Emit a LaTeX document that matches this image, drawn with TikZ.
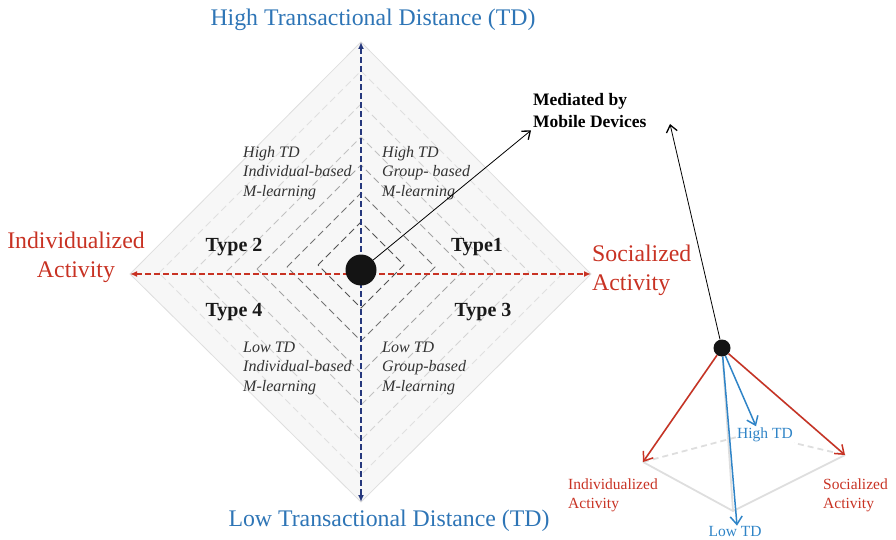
\documentclass[tikz,border=0pt]{standalone}
\usepackage{fontspec}
\setmainfont{Liberation Serif}
\usetikzlibrary{arrows.meta,positioning}
\definecolor{actred}{RGB}{200,50,35}
\definecolor{tdblue}{RGB}{46,117,182}
\definecolor{axisblue}{RGB}{38,56,125}
\definecolor{pyrblue}{RGB}{47,132,199}
\definecolor{panelgray}{RGB}{247,247,247}
\definecolor{edgegray}{RGB}{222,222,222}
\tikzset{
  quadtext/.style={font=\fontsize{16}{19.5}\selectfont\itshape, align=left, text=black!80, anchor=west, inner sep=0pt},
  typelabel/.style={font=\fontsize{20}{24}\selectfont\bfseries, text=black!90},
  axistitle/.style={font=\fontsize{23.8}{28}\selectfont, text=tdblue},
  acttitle/.style={font=\fontsize{23.8}{29}\selectfont, text=actred, inner sep=0pt},
  pyrlabel/.style={font=\fontsize{15.5}{19}\selectfont, inner sep=0pt},
  pyredge/.style={draw=edgegray, line width=1.8pt},
  bigdot/.style={circle, fill=black!92, inner sep=0pt},
  thinarrow/.style={line width=0.8pt, -{Straight Barb[length=7pt,width=11pt,line width=1.3pt]}},
  pyrarrow/.style={line width=1.5pt, -{Straight Barb[length=8pt,width=12pt]}},
}

\begin{document}
\begin{tikzpicture}[x=1pt, y=-1pt]
    \useasboundingbox (0,0) rectangle (896,540);

    \coordinate (dtop) at (361,42);
    \coordinate (dbot) at (361,502);
    \coordinate (dleft) at (130,274);
    \coordinate (dright) at (591,274);

    \fill[panelgray] (dleft) -- (dtop) -- (dright) -- (dbot) -- cycle;
    \draw[edgegray, line width=0.8pt] (dleft) -- (dtop) -- (dright) -- (dbot) -- cycle;
    \foreach \s/\cy/\c in {202/273/black!12, 168/272/black!17, 134/271/black!24, 104/269/black!36, 74/267/black!55, 43/265/black!68}
        \draw[\c, line width=1pt, dash pattern=on 7pt off 4pt] ({361-\s},\cy) -- (361,{\cy-\s}) -- ({361+\s},\cy) -- (361,{\cy+\s}) -- cycle;

    \draw[actred, line width=1.4pt, dash pattern=on 6pt off 3pt, {Latex[length=7pt,width=6pt]}-{Latex[length=7pt,width=6pt]}] (dleft) -- (dright);
    \draw[axisblue, line width=1.4pt, dash pattern=on 6pt off 3pt, {Latex[length=7pt,width=6pt]}-{Latex[length=7pt,width=6pt]}] (dtop) -- (dbot);

    \node[axistitle] (hightitle) at (373,20) {High Transactional Distance (TD)};
    \node[axistitle] (lowtitle) at (389,521) {Low Transactional Distance (TD)};
    \node[acttitle, align=center] (indiv) at (76,257) {Individualized\\Activity};
    \node[acttitle, align=left, anchor=west] (social) at (592,270) {Socialized\\Activity};

    \node[quadtext] (q2) at (243,173) {High TD\\Individual-based\\M-learning};
    \node[quadtext] (q1) at (382,173) {High TD\\Group- based\\M-learning};
    \node[quadtext] (q4) at (243,368) {Low TD\\Individual-based\\M-learning};
    \node[quadtext] (q3) at (382,368) {Low TD\\Group-based\\M-learning};

    \node[typelabel] (type2) at (234,247) {Type 2};
    \node[typelabel] (type1) at (477,247) {Type1};
    \node[typelabel] (type4) at (234,312) {Type 4};
    \node[typelabel] (type3) at (483,312) {Type 3};

    \node[font=\fontsize{17.5}{22}\selectfont\bfseries, align=left, anchor=west, inner sep=2pt] (mediated) at (531,111) {Mediated by\\Mobile Devices};

    \node[bigdot, minimum size=31pt] (hub) at (361,270) {};
    \draw[thinarrow] (hub) -- (mediated.south west);

    \coordinate (bl) at (643,462);
    \coordinate (br) at (845,455);
    \coordinate (bb) at (752,433);
    \coordinate (bf) at (733,511);
    \coordinate (apextip) at (670,124);

    \draw[pyredge] (bl) -- (bf) -- (br);
    \draw[pyredge, dash pattern=on 6pt off 4pt] (bl) -- (bb) -- (br);
    \draw[pyredge] (722,348) -- (bf);
    \draw[pyredge] (722,348) -- (br);
    \draw[pyredge] (722,348) -- (bl);

    \node[pyrlabel, text=pyrblue, fill=white, inner sep=1.5pt] (htd) at (765,435) {High TD};
    \node[pyrlabel, text=pyrblue] (ltd) at (735,531) {Low TD};
    \node[pyrlabel, text=actred, align=left, anchor=west] (pindiv) at (568,495) {Individualized\\Activity};
    \node[pyrlabel, text=actred, align=left, anchor=west] (psocial) at (823,495) {Socialized\\Activity};

    \node[bigdot, minimum size=17pt] (apex) at (722,348) {};
    \draw[thinarrow] (apex) -- (apextip);
    \draw[pyrarrow, actred] (apex) -- (bl);
    \draw[pyrarrow, actred] (apex) -- (br);
    \draw[pyrarrow, pyrblue] (apex) -- ([xshift=-9pt]htd.north);
    \draw[pyrarrow, pyrblue] (apex) -- ([xshift=2pt]ltd.north);
\end{tikzpicture}
\end{document}
